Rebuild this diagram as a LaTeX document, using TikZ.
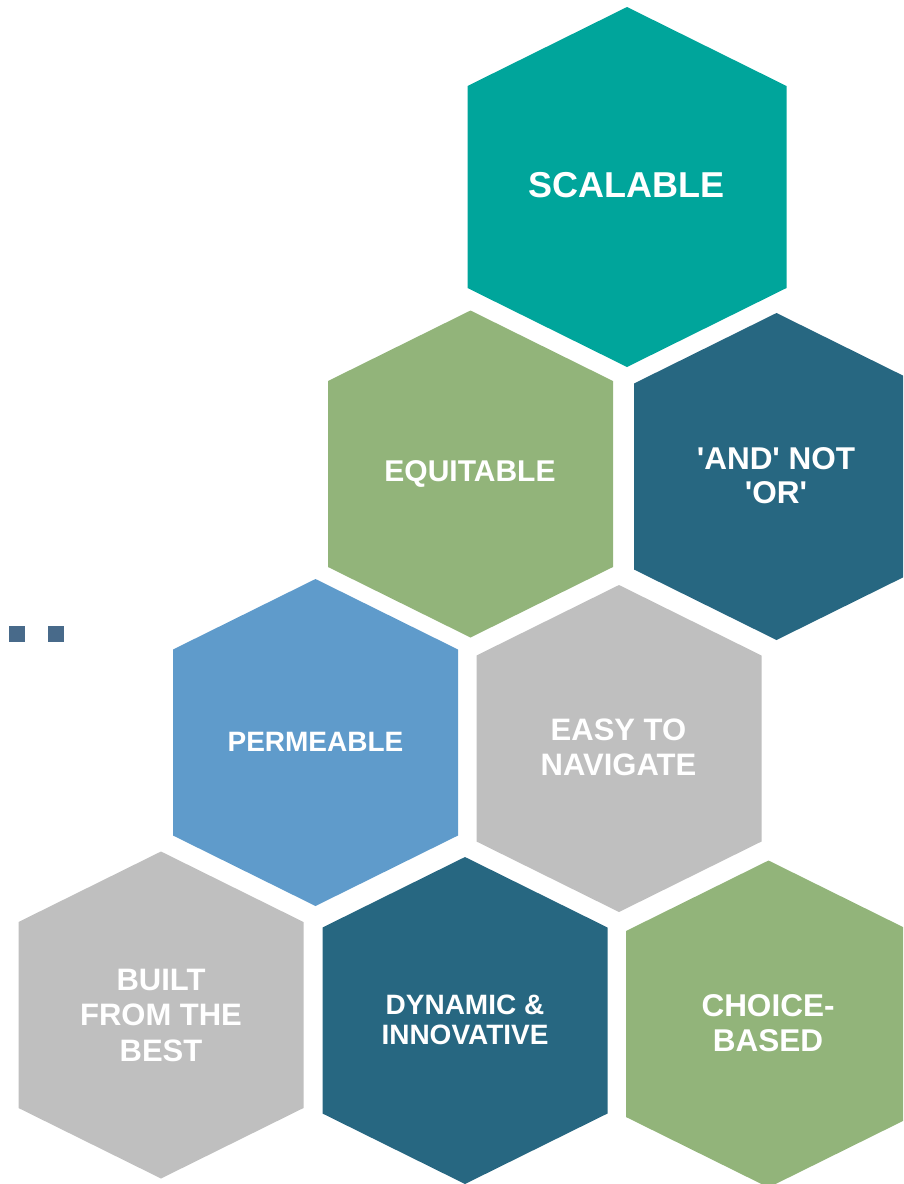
\documentclass[tikz,border=0pt]{standalone}
\usepackage{fontspec}
\setmainfont{Liberation Sans}
\definecolor{cteal}{HTML}{00A59B}
\definecolor{cgreen}{HTML}{92B47A}
\definecolor{cdark}{HTML}{276781}
\definecolor{cblue}{HTML}{5F9BCB}
\definecolor{cgray}{HTML}{BFBFBF}
\definecolor{csq}{HTML}{486A8A}
\newcommand{\smallhex}[2]{\fill[#2, shift={#1}] (0,-163.5) -- (142.5,-93) -- (142.5,93) -- (0,163.5) -- (-142.5,93) -- (-142.5,-93) -- cycle;}
\newcommand{\sq}{\textquotesingle}
\tikzset{
  lbl/.style={text=white, align=center, inner sep=0pt, font=\bfseries\fontsize{31}{35}\selectfont},
  sqbox/.style={fill=csq, minimum width=16pt, minimum height=16pt, inner sep=0pt, draw=none}
}
\begin{document}
\begin{tikzpicture}[x=1pt, y=-1pt]
\useasboundingbox (0,0) rectangle (903,1184);
\clip (0,0) rectangle (903,1184);
% large hexagon
\fill[cteal, shift={(627,187)}] (0,-180) -- (159.5,-101) -- (159.5,101) -- (0,180) -- (-159.5,101) -- (-159.5,-101) -- cycle;
\node[lbl, font=\bfseries\fontsize{36}{40}\selectfont] (scal) at (626.5,185.5) {SCALABLE};
\smallhex{(470.5,474)}{cgreen}
\node[lbl, font=\bfseries\fontsize{30}{34}\selectfont] (equi) at (470,473.5) {EQUITABLE};
\smallhex{(776.5,476.5)}{cdark}
\node[lbl, font=\bfseries\fontsize{31.5}{34}\selectfont] (andnot) at (776,476) {\sq AND\sq{} NOT\\\sq OR\sq};
\smallhex{(315.5,742.5)}{cblue}
\node[lbl, font=\bfseries\fontsize{28}{32}\selectfont] (perm) at (315.5,742) {PERMEABLE};
\smallhex{(619,748.5)}{cgray}
\node[lbl] (easy) at (618.5,747) {EASY TO\\NAVIGATE};
\smallhex{(161,1015)}{cgray}
\node[lbl, font=\bfseries\fontsize{31}{35.5}\selectfont] (built) at (161,1015) {BUILT\\FROM THE\\BEST};
\smallhex{(465,1020.5)}{cdark}
\node[lbl, font=\bfseries\fontsize{28}{30}\selectfont] (dyn) at (465,1020) {DYNAMIC \&\\INNOVATIVE};
\smallhex{(768.5,1024)}{cgreen}
\node[lbl, font=\bfseries\fontsize{31.5}{35.5}\selectfont] (choice) at (768,1023) {CHOICE-\\BASED};
% small squares
\node[sqbox] (sq1) at (16.7,634.3) {};
\node[sqbox] (sq2) at (55.7,634.3) {};
\end{tikzpicture}
\end{document}
